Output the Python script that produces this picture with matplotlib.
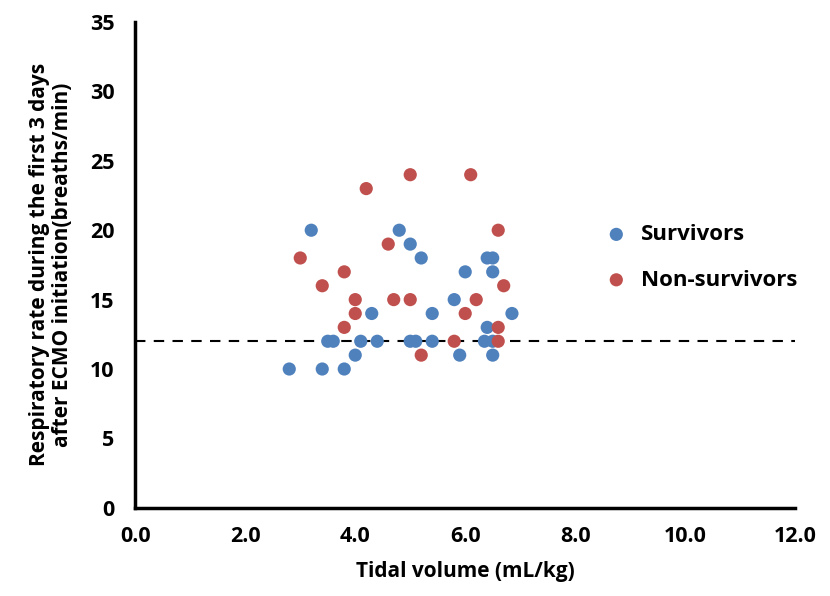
import matplotlib
matplotlib.use("Agg")
import matplotlib.pyplot as plt

plt.rcParams['font.family'] = ['Open Sans', 'DejaVu Sans']
plt.rcParams['font.weight'] = 'bold'

# Survivors
surv_x = [2.8, 3.2, 3.4, 3.8, 3.5, 3.6, 4.0, 4.1, 4.3, 4.4, 4.8, 5.0, 5.2, 5.0, 5.1,
          5.4, 5.4, 5.8, 5.9, 6.0, 6.35, 6.4, 6.4, 6.5, 6.5, 6.5, 6.5, 6.85]
surv_y = [10, 20, 10, 10, 12, 12, 11, 12, 14, 12, 20, 19, 18, 12, 12,
          12, 14, 15, 11, 17, 12, 13, 18, 18, 17, 11, 12, 14]

# Non-survivors
nons_x = [3.0, 3.4, 3.8, 3.8, 4.0, 4.0, 4.2, 4.6, 4.7, 5.0, 5.0, 5.2, 5.8, 6.0,
          6.1, 6.2, 6.6, 6.7, 6.6, 6.6]
nons_y = [18, 16, 17, 13, 15, 14, 23, 19, 15, 24, 15, 11, 12, 14,
          24, 15, 20, 16, 13, 12]

cutoff = 12
xticks = [0, 2, 4, 6, 8, 10, 12]
yticks = [0, 5, 10, 15, 20, 25, 30, 35]

fig = plt.figure(figsize=(8.3, 5.96), dpi=100)
ax = fig.add_axes([0.163, 0.148, 0.795, 0.815])

ax.scatter(surv_x, surv_y, s=90, color='#4F81BD', label='Survivors', zorder=3,
           edgecolors='none')
ax.scatter(nons_x, nons_y, s=90, color='#C0504D', label='Non-survivors', zorder=3,
           edgecolors='none')
ax.axhline(cutoff, color='black', linestyle=(0, (5, 4)), linewidth=1.5, zorder=2)

ax.set_xlim(0, 12)
ax.set_ylim(0, 35)
ax.set_xticks(xticks)
ax.set_xticklabels([f"{v:.1f}" for v in xticks])
ax.set_yticks(yticks)
ax.tick_params(length=0, labelsize=15.5, pad=13)
ax.tick_params(axis='y', pad=15)
for lab in ax.get_xticklabels() + ax.get_yticklabels():
    lab.set_fontweight('bold')

for s in ['top', 'right']:
    ax.spines[s].set_visible(False)
for s in ['left', 'bottom']:
    ax.spines[s].set_linewidth(2.5)

ax.set_xlabel("Tidal volume (mL/kg)", fontsize=15, fontweight='bold', labelpad=10)
ax.set_ylabel("Respiratory rate during the first 3 days\nafter ECMO initiation(breaths/min)",
              fontsize=15, fontweight='bold', labelpad=12, linespacing=1.15)

ax.legend(loc='upper left', bbox_to_anchor=(0.665, 0.625), frameon=False,
          prop={'size': 16, 'weight': 'bold'}, handletextpad=0.1,
          labelspacing=1.1, markerscale=1.0)

fig.savefig("out.png", dpi=100)
